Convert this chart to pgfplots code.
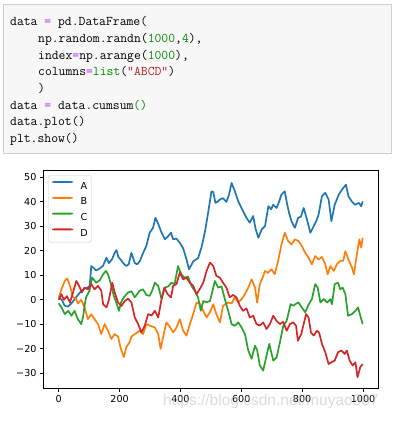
\documentclass[border=0pt]{standalone}
\usepackage{pgfplots}
\pgfplotsset{compat=1.18}
\usepackage{fontspec}
\setmainfont{DejaVu Sans}
\newfontfamily\wmfont{Liberation Sans}
\definecolor{cA}{HTML}{1F77B4}
\definecolor{cB}{HTML}{FF7F0E}
\definecolor{cC}{HTML}{2CA02C}
\definecolor{cD}{HTML}{D62728}
\definecolor{ceq}{HTML}{AA22FF}
\definecolor{cnum}{HTML}{008800}
\definecolor{cstr}{HTML}{BA2121}
\definecolor{codebg}{HTML}{F7F7F7}
\definecolor{codebd}{HTML}{CFCFCF}
\begin{document}
\begin{tikzpicture}
\path[use as bounding box, fill=white] (0pt,0pt) rectangle (392pt,-422pt);
% code cell
\draw[codebd, fill=codebg, line width=1pt] (3.5pt,-5pt) rectangle (391.5pt,-153pt);
\begin{scope}[every node/.style={anchor=base west, inner sep=0pt, font=\ttfamily\fontsize{13.3}{15}\selectfont}]
\node at (10pt,-26pt) {data {\color{ceq}=} pd.DataFrame(};
\node at (38pt,-42.7pt) {np.random.randn({\color{cnum}1000},{\color{cnum}4}),};
\node at (38pt,-59.3pt) {index{\color{ceq}=}np.arange({\color{cnum}1000}),};
\node at (38pt,-76pt) {columns{\color{ceq}=}{\color{cnum}list}({\color{cstr}"ABCD"})};
\node at (38pt,-92.7pt) {)};
\node at (10pt,-109.3pt) {data {\color{ceq}=} data.cumsum{\color{cnum}()}};
\node at (10pt,-126pt) {data.plot()};
\node at (10pt,-142.7pt) {plt.show()};
\end{scope}
\begin{axis}[
  at={(43.5pt,-388pt)}, anchor=south west,
  width=334.4pt, height=217.5pt, scale only axis,
  xmin=-49.95, xmax=1048.95, ymin=-36, ymax=52.8,
  xtick={0,200,400,600,800,1000},
  xticklabels={0,200,400,600,800,1000},
  ytick={-30,-20,-10,0,10,20,30,40,50},
  yticklabels={−30,−20,−10,0,10,20,30,40,50},
  tick align=outside, major tick length=3.5pt,
  xtick pos=left, ytick pos=left,
  axis line style={line width=0.8pt},
  every tick/.style={black, line width=0.8pt},
  tick label style={font=\fontsize{9.6}{11}\selectfont},
  /pgf/number format/assume math mode=true,
  legend style={at={(0.0144,0.978)}, anchor=north west, draw=black!20,
    rounded corners=2pt, fill=white,
    inner xsep=3.5pt, inner ysep=5.6pt, row sep=7.8pt,
    font=\fontsize{9.6}{11}\selectfont,
    nodes={inner sep=0pt, text height=7pt, text depth=0pt},
    /tikz/every odd column/.append style={column sep=7.3pt}},
  legend image code/.code={\fill[#1, draw=none] (0pt,2.6pt) rectangle (21pt,4.5pt);},
]
\addplot[color=cA, line width=1.7pt, line join=round, no markers] coordinates {
(0,1)(10,0)(20,-2.4)(30,-2.8)(45,-1)(57,1)(70,3)(83,4.5)(95,5)(102,5.7)(107,13.8)
(115,13)(123,12)(135,12.8)(146,14)(157,17.2)(165,15)(175,16.5)(184,19.2)(190,20.3)
(196,17.5)(203,16.5)(212,15)(222,13.8)(230,14.5)(239,19.2)(250,15)(258,14.5)(266,15.7)
(277,19)(288,22)(299,27.4)(310,29.4)(318,33.5)(327,31)(338,27.4)(349,24.7)(360,26)
(369,27.4)(376,24.7)(387,25)(398,23.3)(409,21)(420,16.5)(428,12.5)(435,14)(442,15.7)
(458,17)(469,21.3)(480,27.4)(491,35.5)(502,44.3)(508,44)(515,39.6)(522,40)(530,41)
(540,41.5)(551,40)(560,43)(568,47.7)(579,44.3)(590,40.2)(606,36.2)(617,33.5)(628,31.5)
(639,34.2)(647,29)(656,25.3)(667,28.7)(678,30.1)(689,38.2)(698,37)(705,38.8)(716,37.5)
(724,40)(732,43)(743,44.3)(751,38.8)(758,35)(765,32.1)(776,29.4)(787,33.5)(796,34)
(805,37.5)(816,32.7)(827,27.4)(838,30.1)(846,32)(854,34.8)(865,42.3)(876,43.7)(887,41)
(896,32.1)(907,38.8)(920,42.9)(931,45)(944,47)(952,42.3)(963,40.2)(974,38.8)(986,39.6)
(994,38.2)(999,40.2)};
\addlegendentry{A}
\addplot[color=cB, line width=1.7pt, line join=round, no markers] coordinates {
(0,1)(9,4.3)(20,7.7)(28,8.8)(37,5.7)(47,1)(57,0.5)(63,-1.5)(74,0)(85,-3.1)(96,-7.9)
(107,-5.9)(118,-7.9)(129,-9.9)(140,-14)(151,-9.9)(162,-12.6)(173,-16)(184,-14)(195,-15)
(203,-19.4)(214,-23.4)(222,-19.4)(233,-17.3)(239,-15)(250,-14)(266,-12.6)(277,-14)
(288,-9.9)(299,-10.5)(316,-11.3)(327,-14)(335,-20)(343,-15.3)(354,-9.2)(365,-11)
(376,-13.3)(387,-11.3)(398,-7.9)(409,-12.6)(420,-14.6)(431,-9.9)(442,-5.8)(453,-1.1)
(464,-1.5)(475,-4.5)(486,-7.2)(497,-5)(508,-1.8)(518,-5.8)(530,-9.2)(540,-2.4)(557,-1.1)
(568,-1.5)(579,1)(590,-1)(601,0.3)(612,2.3)(623,5)(634,8.4)(645,5)(652,-1.1)(661,6.4)
(670,9)(678,11.8)(688,11)(699,12.5)(710,10.5)(721,15.9)(732,22.6)(743,27.4)(754,24)
(765,22.6)(776,24.7)(788,24)(799,22)(810,19.2)(821,17.2)(832,14.5)(843,17.9)(854,16.5)
(865,17.5)(876,14.5)(884,10.4)(893,13.8)(904,11.8)(914,14.5)(925,15.9)(935,15.9)
(942,19.9)(952,16.5)(964,13.1)(970,10.4)(980,18.6)(988,24.7)(994,21.3)(999,25.3)};
\addlegendentry{B}
\addplot[color=cC, line width=1.7pt, line join=round, no markers] coordinates {
(0,-1.4)(9,-3.1)(20,-5.8)(31,-4.5)(42,-6.5)(52,-4.5)(63,-7.9)(74,-9.9)(80,-7)(85,-2.4)
(90,1)(101,3.7)(110,9.1)(123,7)(135,8)(146,10.4)(155,11.8)(162,10.5)(173,5.7)(181,1.6)
(189,-1)(198,-4.5)(205,-1)(214,1)(228,3)(239,3.5)(250,1)(266,3.7)(277,4.3)(288,2)
(299,1.6)(307,3.7)(316,7)(327,5.7)(338,0.3)(349,5)(360,5.5)(371,7)(381,6.4)(392,13.8)
(403,10.4)(414,9)(425,9.5)(436,5.7)(447,3.7)(458,1)(467,-4.5)(475,-0.5)(486,-1)
(497,-0.5)(508,5)(513,7.7)(524,5)(535,5.5)(546,0.3)(557,-4.5)(568,-9.9)(579,-10.6)
(590,-9.2)(601,-11.3)(612,-14)(623,-20.7)(634,-24.1)(645,-18.7)(652,-20.5)(661,-26.8)
(672,-28.9)(683,-22.8)(692,-18)(705,-24.8)(716,-23.5)(727,-17.3)(738,-10.6)(749,-8.6)
(762,-1.8)(771,-2.4)(781,-1.5)(788,-1.1)(799,-3.1)(810,-5.1)(821,-2)(832,0.3)(843,6.4)
(851,5)(860,-1.1)(871,0.3)(882,-1.1)(893,0.3)(898,-1.8)(907,6.4)(918,7)(925,4.3)(933,5)
(942,2.3)(951,-6.5)(964,-5.8)(975,-4.5)(984,-3.1)(991,-6.5)(999,-9.9)};
\addlegendentry{C}
\addplot[color=cD, line width=1.7pt, line join=round, no markers] coordinates {
(0,0)(9,2.3)(17,0)(27,1.5)(37,-1.1)(47,3)(58,7.7)(67,5.7)(76,3)(85,5)(96,4.3)(107,6.4)
(118,4.3)(129,5.7)(140,3.7)(146,-1.8)(157,-3.1)(165,0)(176,7)(184,3)(195,-1.1)(206,-2.5)
(217,-0.5)(228,0.5)(239,-1.1)(250,-7.2)(261,-9.9)(272,-13.3)(283,-10.5)(294,-5.8)
(305,-6.4)(316,-4.5)(327,-7.2)(338,0.3)(347,5)(358,2.3)(369,1)(376,5.7)(387,6.4)
(398,11.1)(409,8.4)(420,9)(431,7)(442,5.7)(453,2.3)(464,4.5)(475,7)(486,11.8)(497,15.2)
(508,13.8)(518,9.8)(530,9)(540,7)(551,5)(562,1)(573,2)(584,1)(595,-2.4)(606,-4.5)
(617,-3.5)(628,-7.2)(639,-6.5)(650,-9.9)(661,-10.5)(672,-9.2)(683,-11.9)(694,-9.9)
(705,-6.5)(716,-8.6)(727,-9.9)(738,-9)(749,-12.6)(760,-9.9)(771,-9.2)(780,-10.6)
(786,-16.7)(797,-14)(805,-9.9)(813,-5.8)(821,-7.2)(829,-13.3)(838,-14.6)(849,-12.6)
(856,-13.5)(865,-18)(876,-21.4)(887,-26.2)(896,-25.5)(907,-24.8)(918,-21.4)(929,-20.7)
(940,-22.1)(947,-20.7)(956,-24.8)(966,-26.8)(975,-25.5)(982,-31.6)(991,-27.5)(999,-26.2)};
\addlegendentry{D}
\end{axis}
\node[anchor=base west, inner sep=0pt, font=\wmfont\fontsize{15.5}{16}\selectfont, text=black!25, opacity=0.55] at (163pt,-405.5pt) {https://blog.csdn.net/muyao987};
\end{tikzpicture}
\end{document}
